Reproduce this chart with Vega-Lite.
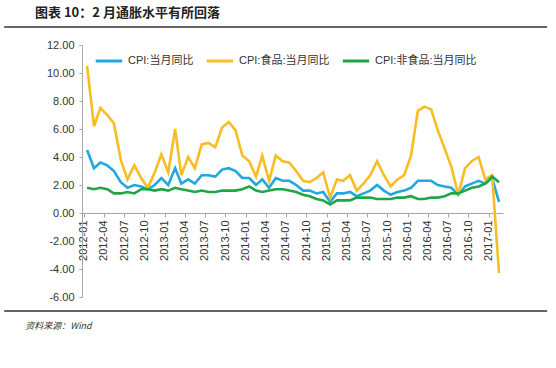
{
  "$schema": "https://vega.github.io/schema/vega-lite/v6.json",
  "width": 421,
  "height": 252,
  "autosize": {"type": "none"},
  "padding": {"left": 82, "top": 45, "right": 53, "bottom": 71},
  "background": "white",
  "config": {
    "view": {"stroke": null},
    "font": "Liberation Sans, Noto Sans CJK SC",
    "axis": {"labelFont": "Liberation Sans", "labelColor": "#333333", "labelFontSize": 11, "domainColor": "#a6a6a6", "tickColor": "#a6a6a6", "grid": false, "title": null},
    "axisY": {"labelOverlap": false, "labelFlush": false},
    "axisX": {"labelOverlap": false, "labelFlush": false}
  },
  "title": {
    "text": "图表 10：2 月通胀水平有所回落",
    "anchor": "start",
    "frame": "group",
    "dx": -47,
    "offset": 6,
    "font": "Noto Sans CJK SC",
    "fontSize": 13,
    "fontWeight": "bold",
    "color": "#222222"
  },
  "data": {
    "values": [
      {"month": "2012-01", "CPI:当月同比": 4.5, "CPI:食品:当月同比": 10.5, "CPI:非食品:当月同比": 1.8},
      {"month": "2012-02", "CPI:当月同比": 3.2, "CPI:食品:当月同比": 6.2, "CPI:非食品:当月同比": 1.7},
      {"month": "2012-03", "CPI:当月同比": 3.6, "CPI:食品:当月同比": 7.5, "CPI:非食品:当月同比": 1.8},
      {"month": "2012-04", "CPI:当月同比": 3.4, "CPI:食品:当月同比": 7.0, "CPI:非食品:当月同比": 1.7},
      {"month": "2012-05", "CPI:当月同比": 3.0, "CPI:食品:当月同比": 6.4, "CPI:非食品:当月同比": 1.4},
      {"month": "2012-06", "CPI:当月同比": 2.2, "CPI:食品:当月同比": 3.8, "CPI:非食品:当月同比": 1.4},
      {"month": "2012-07", "CPI:当月同比": 1.8, "CPI:食品:当月同比": 2.4, "CPI:非食品:当月同比": 1.5},
      {"month": "2012-08", "CPI:当月同比": 2.0, "CPI:食品:当月同比": 3.4, "CPI:非食品:当月同比": 1.4},
      {"month": "2012-09", "CPI:当月同比": 1.9, "CPI:食品:当月同比": 2.5, "CPI:非食品:当月同比": 1.7},
      {"month": "2012-10", "CPI:当月同比": 1.7, "CPI:食品:当月同比": 1.8, "CPI:非食品:当月同比": 1.7},
      {"month": "2012-11", "CPI:当月同比": 2.0, "CPI:食品:当月同比": 2.9, "CPI:非食品:当月同比": 1.6},
      {"month": "2012-12", "CPI:当月同比": 2.5, "CPI:食品:当月同比": 4.2, "CPI:非食品:当月同比": 1.7},
      {"month": "2013-01", "CPI:当月同比": 2.0, "CPI:食品:当月同比": 2.9, "CPI:非食品:当月同比": 1.6},
      {"month": "2013-02", "CPI:当月同比": 3.2, "CPI:食品:当月同比": 6.0, "CPI:非食品:当月同比": 1.8},
      {"month": "2013-03", "CPI:当月同比": 2.1, "CPI:食品:当月同比": 2.7, "CPI:非食品:当月同比": 1.7},
      {"month": "2013-04", "CPI:当月同比": 2.4, "CPI:食品:当月同比": 4.0, "CPI:非食品:当月同比": 1.6},
      {"month": "2013-05", "CPI:当月同比": 2.1, "CPI:食品:当月同比": 3.2, "CPI:非食品:当月同比": 1.5},
      {"month": "2013-06", "CPI:当月同比": 2.7, "CPI:食品:当月同比": 4.9, "CPI:非食品:当月同比": 1.6},
      {"month": "2013-07", "CPI:当月同比": 2.7, "CPI:食品:当月同比": 5.0, "CPI:非食品:当月同比": 1.5},
      {"month": "2013-08", "CPI:当月同比": 2.6, "CPI:食品:当月同比": 4.7, "CPI:非食品:当月同比": 1.5},
      {"month": "2013-09", "CPI:当月同比": 3.1, "CPI:食品:当月同比": 6.1, "CPI:非食品:当月同比": 1.6},
      {"month": "2013-10", "CPI:当月同比": 3.2, "CPI:食品:当月同比": 6.5, "CPI:非食品:当月同比": 1.6},
      {"month": "2013-11", "CPI:当月同比": 3.0, "CPI:食品:当月同比": 5.9, "CPI:非食品:当月同比": 1.6},
      {"month": "2013-12", "CPI:当月同比": 2.5, "CPI:食品:当月同比": 4.1, "CPI:非食品:当月同比": 1.7},
      {"month": "2014-01", "CPI:当月同比": 2.5, "CPI:食品:当月同比": 3.7, "CPI:非食品:当月同比": 1.9},
      {"month": "2014-02", "CPI:当月同比": 2.0, "CPI:食品:当月同比": 2.6, "CPI:非食品:当月同比": 1.6},
      {"month": "2014-03", "CPI:当月同比": 2.4, "CPI:食品:当月同比": 4.1, "CPI:非食品:当月同比": 1.5},
      {"month": "2014-04", "CPI:当月同比": 1.8, "CPI:食品:当月同比": 2.3, "CPI:非食品:当月同比": 1.6},
      {"month": "2014-05", "CPI:当月同比": 2.5, "CPI:食品:当月同比": 4.1, "CPI:非食品:当月同比": 1.7},
      {"month": "2014-06", "CPI:当月同比": 2.3, "CPI:食品:当月同比": 3.7, "CPI:非食品:当月同比": 1.7},
      {"month": "2014-07", "CPI:当月同比": 2.3, "CPI:食品:当月同比": 3.6, "CPI:非食品:当月同比": 1.6},
      {"month": "2014-08", "CPI:当月同比": 2.0, "CPI:食品:当月同比": 3.0, "CPI:非食品:当月同比": 1.5},
      {"month": "2014-09", "CPI:当月同比": 1.6, "CPI:食品:当月同比": 2.3, "CPI:非食品:当月同比": 1.3},
      {"month": "2014-10", "CPI:当月同比": 1.6, "CPI:食品:当月同比": 2.2, "CPI:非食品:当月同比": 1.2},
      {"month": "2014-11", "CPI:当月同比": 1.4, "CPI:食品:当月同比": 2.5, "CPI:非食品:当月同比": 1.0},
      {"month": "2014-12", "CPI:当月同比": 1.5, "CPI:食品:当月同比": 2.9, "CPI:非食品:当月同比": 0.9},
      {"month": "2015-01", "CPI:当月同比": 0.8, "CPI:食品:当月同比": 1.1, "CPI:非食品:当月同比": 0.6},
      {"month": "2015-02", "CPI:当月同比": 1.4, "CPI:食品:当月同比": 2.4, "CPI:非食品:当月同比": 0.9},
      {"month": "2015-03", "CPI:当月同比": 1.4, "CPI:食品:当月同比": 2.3, "CPI:非食品:当月同比": 0.9},
      {"month": "2015-04", "CPI:当月同比": 1.5, "CPI:食品:当月同比": 2.7, "CPI:非食品:当月同比": 0.9},
      {"month": "2015-05", "CPI:当月同比": 1.2, "CPI:食品:当月同比": 1.6, "CPI:非食品:当月同比": 1.1},
      {"month": "2015-06", "CPI:当月同比": 1.4, "CPI:食品:当月同比": 2.1, "CPI:非食品:当月同比": 1.1},
      {"month": "2015-07", "CPI:当月同比": 1.6, "CPI:食品:当月同比": 2.7, "CPI:非食品:当月同比": 1.1},
      {"month": "2015-08", "CPI:当月同比": 2.0, "CPI:食品:当月同比": 3.7, "CPI:非食品:当月同比": 1.0},
      {"month": "2015-09", "CPI:当月同比": 1.6, "CPI:食品:当月同比": 2.7, "CPI:非食品:当月同比": 1.0},
      {"month": "2015-10", "CPI:当月同比": 1.3, "CPI:食品:当月同比": 1.9, "CPI:非食品:当月同比": 1.0},
      {"month": "2015-11", "CPI:当月同比": 1.5, "CPI:食品:当月同比": 2.4, "CPI:非食品:当月同比": 1.1},
      {"month": "2015-12", "CPI:当月同比": 1.6, "CPI:食品:当月同比": 2.7, "CPI:非食品:当月同比": 1.1},
      {"month": "2016-01", "CPI:当月同比": 1.8, "CPI:食品:当月同比": 4.1, "CPI:非食品:当月同比": 1.2},
      {"month": "2016-02", "CPI:当月同比": 2.3, "CPI:食品:当月同比": 7.3, "CPI:非食品:当月同比": 1.0},
      {"month": "2016-03", "CPI:当月同比": 2.3, "CPI:食品:当月同比": 7.6, "CPI:非食品:当月同比": 1.0},
      {"month": "2016-04", "CPI:当月同比": 2.3, "CPI:食品:当月同比": 7.4, "CPI:非食品:当月同比": 1.1},
      {"month": "2016-05", "CPI:当月同比": 2.0, "CPI:食品:当月同比": 5.9, "CPI:非食品:当月同比": 1.1},
      {"month": "2016-06", "CPI:当月同比": 1.9, "CPI:食品:当月同比": 4.6, "CPI:非食品:当月同比": 1.2},
      {"month": "2016-07", "CPI:当月同比": 1.8, "CPI:食品:当月同比": 3.3, "CPI:非食品:当月同比": 1.4},
      {"month": "2016-08", "CPI:当月同比": 1.3, "CPI:食品:当月同比": 1.3, "CPI:非食品:当月同比": 1.4},
      {"month": "2016-09", "CPI:当月同比": 1.9, "CPI:食品:当月同比": 3.2, "CPI:非食品:当月同比": 1.6},
      {"month": "2016-10", "CPI:当月同比": 2.1, "CPI:食品:当月同比": 3.7, "CPI:非食品:当月同比": 1.8},
      {"month": "2016-11", "CPI:当月同比": 2.3, "CPI:食品:当月同比": 4.0, "CPI:非食品:当月同比": 1.9},
      {"month": "2016-12", "CPI:当月同比": 2.1, "CPI:食品:当月同比": 2.4, "CPI:非食品:当月同比": 2.1},
      {"month": "2017-01", "CPI:当月同比": 2.5, "CPI:食品:当月同比": 2.7, "CPI:非食品:当月同比": 2.6},
      {"month": "2017-02", "CPI:当月同比": 0.8, "CPI:食品:当月同比": -4.3, "CPI:非食品:当月同比": 2.2}
    ],
    "format": {"parse": {"month": "utc:'%Y-%m'"}}
  },
  "layer": [
    {
      "transform": [
        {"fold": ["CPI:当月同比", "CPI:食品:当月同比", "CPI:非食品:当月同比"], "as": ["series", "value"]}
      ],
      "mark": {"type": "line", "strokeWidth": 2.6, "clip": false},
      "encoding": {
        "x": {
          "field": "month",
          "type": "temporal",
          "scale": {
            "type": "utc",
            "domain": [
              {"year": 2011, "month": 12, "date": 9, "utc": true},
              {"year": 2017, "month": 2, "date": 19, "utc": true}
            ],
            "nice": false
          },
          "axis": {
            "format": "%Y-%m",
            "tickCount": {"interval": "month", "step": 3},
            "labelAngle": -90,
            "labelPadding": 3,
            "tickSize": 4,
            "tickOffset": -3.4,
            "offset": -84,
            "labelOverlap": false,
            "labelFlush": false,
            "zindex": 0
          }
        },
        "y": {
          "field": "value",
          "type": "quantitative",
          "scale": {"domain": [-6, 12], "nice": false, "zero": false},
          "axis": {
            "values": [-6, -4, -2, 0, 2, 4, 6, 8, 10, 12],
            "tickCount": 10,
            "labelExpr": "replace(format(datum.value, '.2f'), '\u2212', '-')",
            "labelOverlap": false,
            "labelFlush": false,
            "labelSeparation": 0,
            "tickSize": 3,
            "labelPadding": 5
          }
        },
        "color": {
          "field": "series",
          "type": "nominal",
          "sort": ["CPI:当月同比", "CPI:食品:当月同比", "CPI:非食品:当月同比"],
          "scale": {
            "domain": ["CPI:当月同比", "CPI:食品:当月同比", "CPI:非食品:当月同比"],
            "range": ["#21a8e1", "#f8bd24", "#22a545"]
          },
          "legend": {
            "title": null,
            "orient": "none",
            "legendX": 12,
            "legendY": 1,
            "direction": "horizontal",
            "symbolType": "stroke",
            "symbolSize": 700,
            "symbolStrokeWidth": 3,
            "labelFont": "Liberation Sans, Noto Sans CJK SC",
            "labelFontSize": 11,
            "labelColor": "#333333",
            "labelOffset": 4,
            "columnPadding": 6
          }
        }
      }
    },
    {
      "data": {"values": [{"edge": "top", "y": 13.29}, {"edge": "bottom", "y": -7.0}]},
      "mark": {"type": "rule", "clip": false, "color": "#333333", "strokeWidth": 1.5},
      "encoding": {
        "x": {"datum": {"year": 2010, "month": 12, "date": 23, "utc": true}, "type": "temporal"},
        "x2": {"datum": {"year": 2017, "month": 9, "date": 6, "utc": true}},
        "y": {"field": "y", "type": "quantitative"}
      }
    },
    {
      "data": {"values": [{"source": "资料来源：Wind"}]},
      "mark": {"type": "text", "clip": false, "align": "left", "baseline": "middle", "fontSize": 9, "fontStyle": "italic", "color": "#333333", "font": "Noto Sans CJK SC"},
      "encoding": {
        "x": {"datum": {"year": 2011, "month": 3, "date": 28, "utc": true}, "type": "temporal"},
        "y": {"datum": -8.07, "type": "quantitative"},
        "text": {"field": "source"}
      }
    }
  ]
}
